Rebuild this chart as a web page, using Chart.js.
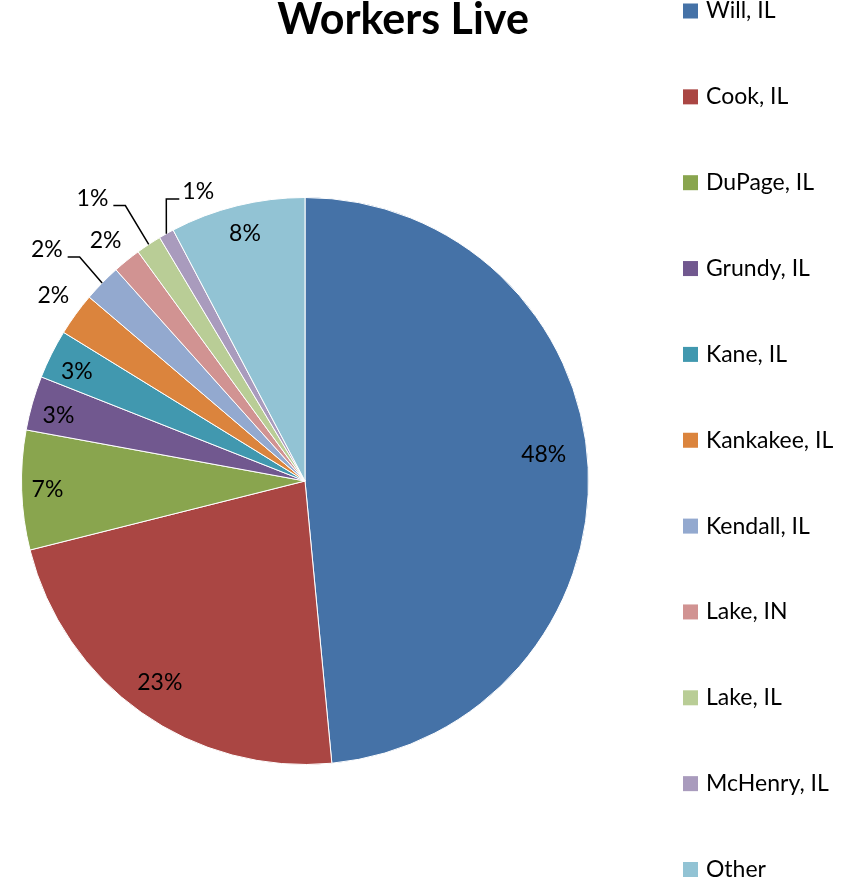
<!DOCTYPE html>
<html>
<head>
<meta charset="utf-8">
<title>Workers Live</title>
<script src="https://cdn.jsdelivr.net/npm/chart.js@4.4.0/dist/chart.umd.min.js"></script>
<style>
  html, body { margin: 0; padding: 0; background: #fff; }
  #wrap { width: 854px; height: 881px; }
</style>
</head>
<body>
<div id="wrap"><canvas id="pie" width="854" height="881"></canvas></div>
<script>
const chartTitle = 'Workers Live';
const counties = ['Will, IL', 'Cook, IL', 'DuPage, IL', 'Grundy, IL', 'Kane, IL', 'Kankakee, IL',
    'Kendall, IL', 'Lake, IN', 'Lake, IL', 'McHenry, IL', 'Other'];
// share of workers, in percent
const shares = [48.5, 22.6, 6.8, 3.1, 2.8, 2.45, 2.15, 1.6, 1.45, 0.87, 7.7];
const sliceColors = ['#4572A7', '#AA4643', '#89A54E', '#71588F', '#4198AF', '#DB843D',
    '#93A9CF', '#D19392', '#B9CD96', '#A99BBD', '#92C3D4'];

// where each percent label sits, relative to the middle of its slice
const labelShift = [-3.5, 0.5, 0, -1, -1, 0.4, -2.5, -0.7, -3.5, 9, 0.2];   // degrees
const labelRadius = [0.847, 0.877, 0.909, 0.9, 0.892, 1.103, 1.222, 1.102, 1.247, 1.087, 0.897];
const labelLeader = [0, 0, 0, 0, 0, 0, 1, 0, 1, 1, 0];

const FONT = 'Lato, "Open Sans", sans-serif';

// percent labels on the slices (with leader lines for the small ones)
const sliceLabels = {
    id: 'sliceLabels',
    afterDatasetsDraw(chart) {
        const ctx = chart.ctx;
        const meta = chart.getDatasetMeta(0);
        const total = shares.reduce((a, b) => a + b, 0);
        ctx.save();
        ctx.font = '23px ' + FONT;
        ctx.fillStyle = '#000';
        ctx.strokeStyle = '#000';
        ctx.lineWidth = 1.5;
        ctx.textAlign = 'center';
        ctx.textBaseline = 'middle';
        meta.data.forEach((arc, i) => {
            const mid = (arc.startAngle + arc.endAngle) / 2;
            const ang = mid + labelShift[i] * Math.PI / 180;
            const r = arc.outerRadius * labelRadius[i];
            const x = arc.x + r * Math.cos(ang);
            const y = arc.y + r * Math.sin(ang);
            const text = Math.round(shares[i] / total * 100) + '%';
            ctx.fillText(text, x, y);

            if (labelLeader[i]) {
                const half = ctx.measureText(text).width / 2;
                const px = arc.x + arc.outerRadius * Math.cos(mid);
                const py = arc.y + arc.outerRadius * Math.sin(mid);
                const onLeft = x < px;
                const hx = onLeft ? x + half + 5 : x - half - 3;
                const ex = onLeft ? hx + 12 : hx - 13;
                const ly = y + 7;
                ctx.beginPath();
                ctx.moveTo(hx, ly);
                ctx.lineTo(ex, ly);
                ctx.lineTo(px, py);
                ctx.stroke();
            }
        });
        ctx.restore();
    }
};

// title and the widely spaced legend down the right side
const titleAndLegend = {
    id: 'titleAndLegend',
    afterDraw(chart) {
        const ctx = chart.ctx;
        const ds = chart.data.datasets[0];
        ctx.save();
        ctx.fillStyle = '#000';
        ctx.font = 'bold 43px ' + FONT;
        ctx.textAlign = 'center';
        ctx.textBaseline = 'alphabetic';
        ctx.fillText(chartTitle, 403, 34);

        ctx.font = '23px ' + FONT;
        ctx.textAlign = 'left';
        ctx.textBaseline = 'middle';
        chart.data.labels.forEach((name, i) => {
            const y = 11 + i * 85.85;
            ctx.fillStyle = ds.backgroundColor[i];
            ctx.fillRect(683, y - 7.5, 15, 15);
            ctx.fillStyle = '#000';
            ctx.fillText(name, 706, y);
        });
        ctx.restore();
    }
};

const chart = new Chart(document.getElementById('pie'), {
    type: 'pie',
    data: {
        labels: counties,
        datasets: [{
            data: shares,
            backgroundColor: sliceColors,
            borderColor: '#ffffff',
            borderWidth: 1,
            hoverOffset: 0
        }]
    },
    options: {
        responsive: false,
        animation: false,
        radius: 283.5,
        layout: {
            padding: { left: 21, right: 265, top: 197, bottom: 116 }
        },
        plugins: {
            legend: { display: false },
            title: { display: false },
            tooltip: { enabled: false }
        }
    },
    plugins: [sliceLabels, titleAndLegend]
});
</script>
</body>
</html>
